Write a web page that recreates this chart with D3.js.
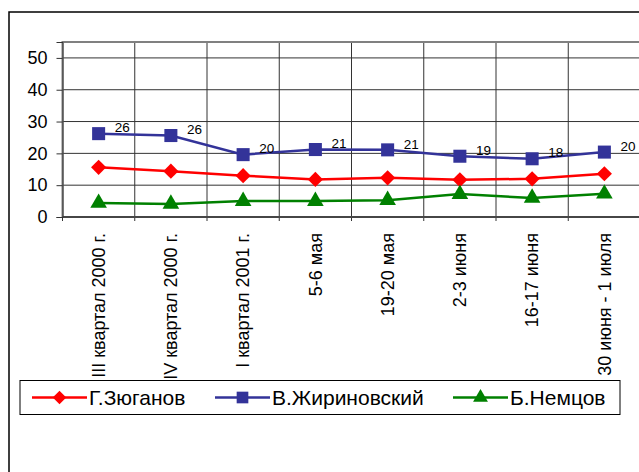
<!DOCTYPE html>
<html>
<head>
<meta charset="utf-8">
<script src="https://cdn.jsdelivr.net/npm/d3@7"></script>
<style>
  body { margin: 0; background: #fff; }
  svg { font-family: Arial, "Liberation Sans", sans-serif; }
</style>
</head>
<body>
<script>
const categories = ["III квартал 2000 г.", "IV квартал 2000 г.", "I квартал 2001 г.", "5-6 мая",
    "19-20 мая", "2-3 июня", "16-17 июня", "30 июня - 1 июля"];
const zyuganov = [15.6, 14.4, 13.0, 11.8, 12.3, 11.7, 12.0, 13.6];
const zhirinovsky = [26.2, 25.6, 19.6, 21.2, 21.1, 19.1, 18.3, 20.4];
const nemtsov = [4.4, 4.1, 5.0, 5.0, 5.3, 7.2, 6.0, 7.3];
const yTicks = [0, 10, 20, 30, 40, 50];

const series = [
    { name: "Г.Зюганов", values: zyuganov, color: "#ff0000", marker: d3.symbolSquare, rot: 45, size: 115, labels: false },
    { name: "В.Жириновский", values: zhirinovsky, color: "#333399", marker: d3.symbolSquare, rot: 0, size: 170, labels: true },
    { name: "Б.Немцов", values: nemtsov, color: "#008000", marker: d3.symbolTriangle, rot: 0, size: 120, labels: false }
];

const width = 639, height = 472;
const svg = d3.select("body").append("svg")
    .attr("width", width)
    .attr("height", height);

// chart frame
svg.append("rect")
    .attr("x", 9).attr("y", 12)
    .attr("width", 700).attr("height", 500)
    .attr("fill", "#fff")
    .attr("stroke", "#000")
    .attr("stroke-width", 1.5);

const plotLeft = 62.5, plotTop = 42, plotRight = 640.5, plotBottom = 217;

const x = d3.scaleBand().domain(categories).range([plotLeft, plotRight]);
const y = d3.scaleLinear().domain([0, 55]).range([plotBottom, plotTop]);

// gridlines
svg.append("g").selectAll("line").data(yTicks.slice(1)).join("line")
    .attr("x1", plotLeft).attr("x2", plotRight)
    .attr("y1", d => y(d)).attr("y2", d => y(d))
    .attr("stroke", "#333").attr("stroke-width", 1);

svg.append("g").selectAll("line").data(categories.slice(1)).join("line")
    .attr("x1", d => x(d)).attr("x2", d => x(d))
    .attr("y1", plotTop).attr("y2", plotBottom + 4)
    .attr("stroke", "#333").attr("stroke-width", 1);

// plot border
svg.append("rect")
    .attr("x", plotLeft).attr("y", plotTop)
    .attr("width", plotRight - plotLeft).attr("height", plotBottom - plotTop)
    .attr("fill", "none")
    .attr("stroke", "#808080")
    .attr("stroke-width", 2);

// y axis
const yAxis = svg.append("g")
    .attr("transform", `translate(${plotLeft},0)`)
    .call(d3.axisLeft(y).tickValues(yTicks).tickSize(6).tickPadding(9));
yAxis.select(".domain").attr("stroke", "#333");
yAxis.selectAll(".tick line").attr("stroke", "#333");
yAxis.selectAll("text").attr("font-size", 18).attr("fill", "#000")
    .attr("font-family", "Arial, 'Liberation Sans', sans-serif");

// x axis
svg.append("line")
    .attr("x1", plotLeft).attr("x2", plotRight)
    .attr("y1", plotBottom).attr("y2", plotBottom)
    .attr("stroke", "#333").attr("stroke-width", 1.5);
svg.append("line")
    .attr("x1", plotLeft).attr("x2", plotLeft)
    .attr("y1", plotBottom).attr("y2", plotBottom + 4)
    .attr("stroke", "#333");

svg.append("g").selectAll("text").data(categories).join("text")
    .attr("transform", d => `translate(${x(d) + x.bandwidth() / 2},233) rotate(-90)`)
    .attr("text-anchor", "end")
    .attr("dy", "0.35em")
    .attr("font-size", 18)
    .text(d => d);

// series
const line = d3.line()
    .x((d, i) => x(categories[i]) + x.bandwidth() / 2)
    .y(d => y(d));

series.forEach(s => {
    const g = svg.append("g");
    g.append("path")
        .attr("d", line(s.values))
        .attr("fill", "none")
        .attr("stroke", s.color)
        .attr("stroke-width", 2.5);
    g.selectAll("path.m").data(s.values).join("path")
        .attr("class", "m")
        .attr("transform", (d, i) => `translate(${x(categories[i]) + x.bandwidth() / 2},${y(d)}) rotate(${s.rot})`)
        .attr("d", d3.symbol().type(s.marker).size(s.size))
        .attr("fill", s.color);
    if (s.labels) {
        g.selectAll("text").data(s.values).join("text")
            .attr("x", (d, i) => x(categories[i]) + x.bandwidth() / 2 + 16)
            .attr("y", d => y(d) - 6)
            .attr("dy", "0.35em")
            .attr("font-size", 13.5)
            .text(d => Math.round(d));
    }
});

// legend
svg.append("rect")
    .attr("x", 20).attr("y", 380.5)
    .attr("width", 600).attr("height", 34)
    .attr("fill", "#fff")
    .attr("stroke", "#000")
    .attr("stroke-width", 1);

const legendX = [32, 215, 453];
series.forEach((s, i) => {
    const g = svg.append("g").attr("transform", `translate(${legendX[i]},397.5)`);
    g.append("line").attr("x1", 0).attr("x2", 55)
        .attr("stroke", s.color).attr("stroke-width", 2.5);
    g.append("path")
        .attr("transform", `translate(27.5,0) rotate(${s.rot})`)
        .attr("d", d3.symbol().type(s.marker).size(s.size * 0.8))
        .attr("fill", s.color);
    g.append("text")
        .attr("x", 57)
        .attr("dy", "0.36em")
        .attr("font-size", 21)
        .text(s.name);
});
</script>
</body>
</html>
